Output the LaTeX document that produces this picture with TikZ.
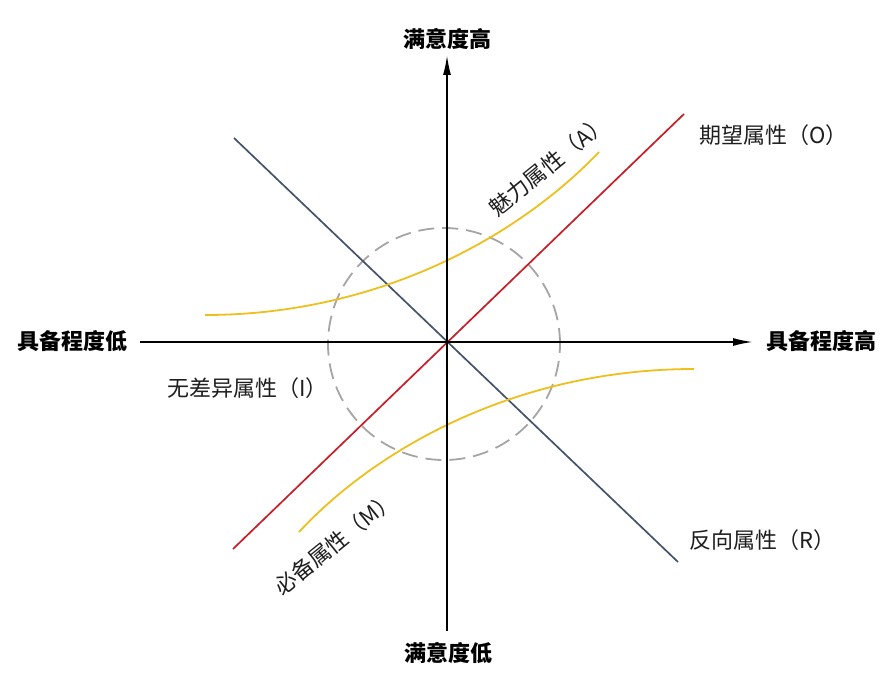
\documentclass[tikz,border=0pt]{standalone}
\usepackage{fontspec}
\newfontfamily\cjk{Noto Sans CJK SC}
\usetikzlibrary{arrows.meta}
\definecolor{redline}{RGB}{200,30,40}
\definecolor{slateline}{RGB}{68,84,106}
\definecolor{yellowline}{RGB}{238,192,30}
\definecolor{circlegray}{RGB}{165,165,165}
\definecolor{labelgray}{RGB}{30,30,30}
\begin{document}
\begin{tikzpicture}[x=1pt,y=-1pt,
  axisline/.style={line width=1.8pt,black},
  axislabel/.style={font=\cjk\bfseries\fontsize{22}{26}\selectfont,inner sep=0pt,text=black},
  attrlabel/.style={font=\cjk\fontsize{22}{26}\selectfont,inner sep=0pt,text=labelgray},
  attrcurve/.style={line width=1.8pt,yellowline},
  diagline/.style={line width=1.7pt}]
\useasboundingbox[fill=white] (0,0) rectangle (894,692);
% named points
\coordinate (O) at (447,342);
\coordinate (hL) at (140,342);
\coordinate (hR) at (753,342);
\coordinate (vB) at (447,631);
\coordinate (vT) at (447,55);
\coordinate (oLo) at (233,549);
\coordinate (oHi) at (684,114);
\coordinate (rHi) at (234,138);
\coordinate (rLo) at (678,562);
\coordinate (aS) at (205,315);
\coordinate (aE) at (599,152);
\coordinate (mS) at (694,369);
\coordinate (mE) at (299,532);
\coordinate (cc) at (444,344);
% dashed circle
\draw[circlegray,line width=1.8pt,dash pattern=on 16pt off 8pt] (cc) circle[radius=116pt];
% diagonal lines
\draw[diagline,slateline] (rHi) -- (rLo);
\draw[diagline,redline] (oLo) -- (oHi);
% curves
\draw[attrcurve] (aS) .. controls (380,315) and (520,235) .. (aE);
\draw[attrcurve] (mS) .. controls (519,369) and (378,447) .. (mE);
% axes
\draw[axisline,-{Latex[length=20pt,width=8pt]}] (hL) -- (hR);
\draw[axisline,-{Latex[length=20pt,width=8pt]}] (vB) -- (vT);
% axis labels
\node[axislabel] (yhi) at (447,39) {满意度高};
\node[axislabel] (ylo) at (448,653) {满意度低};
\node[axislabel] (xlo) at (72,341) {具备程度低};
\node[axislabel] (xhi) at (821,341) {具备程度高};
% attribute labels
\node[attrlabel,anchor=west] (lO) at (699,135) {期望属性（O）};
\node[attrlabel,anchor=west] (lI) at (167,388) {无差异属性（I）};
\node[attrlabel,anchor=west] (lR) at (689,540) {反向属性（R）};
\node[attrlabel,rotate=39] (lA) at (549,165) {魅力属性（A）};
\node[attrlabel,rotate=39] (lM) at (335,543) {必备属性（M）};
\end{tikzpicture}
\end{document}
